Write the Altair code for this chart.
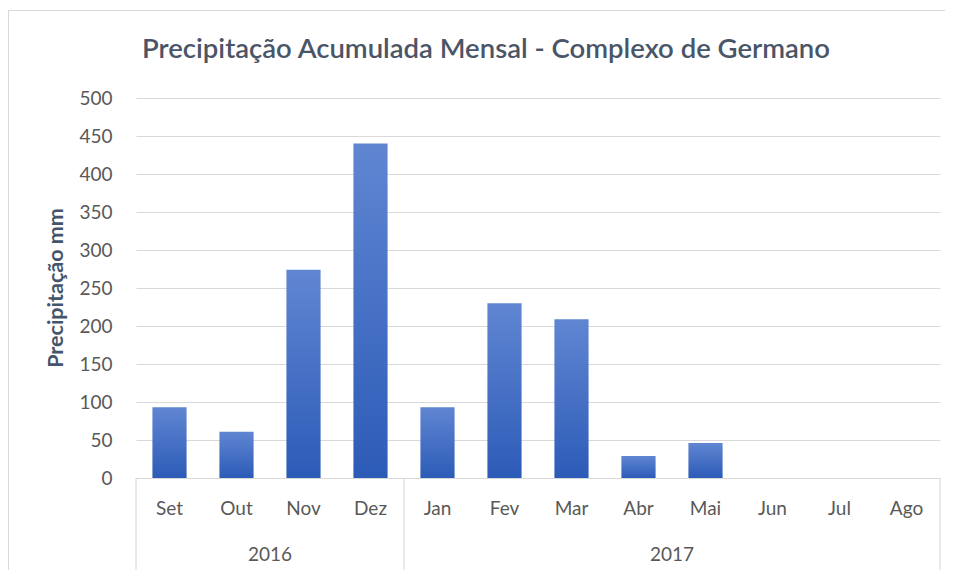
import altair as alt
import pandas as pd

# ---- data ----
months = ["Set", "Out", "Nov", "Dez", "Jan", "Fev", "Mar", "Abr", "Mai", "Jun", "Jul", "Ago"]
values = [93, 61, 274, 440, 93, 230, 209, 29, 46, 0, 0, 0]
years = ["2016", "2017"]
year_mid_month = ["Nov", "Mai"]      # label sits on the left edge of this month's slot
group_start = ["Set", "Jan"]          # separators at left edge of these slots
group_end = ["Ago"]                   # separator at right edge of this slot
y_ticks = list(range(0, 501, 50))
title_text = ["Precipitação Acumulada Mensal - Complexo de Germano"]
ytitle_text = ["Precipitação mm"]

W, H = 804, 380
STEP = W / len(months)
FONT = "Lato"
LABEL_COLOR = "#595959"
TITLE_COLOR = "#4a5567"
GRID = "#d9d9d9"

df = pd.DataFrame({"Mes": months, "Precip": values})

xscale = alt.Scale(domain=months, paddingInner=0.49, paddingOuter=0.245)
xenc = alt.X(
    "Mes:N", sort=months, scale=xscale,
    axis=alt.Axis(title=None, labelAngle=0, ticks=False, labelPadding=21,
                  domainColor=GRID, labelFont=FONT, labelFontSize=19,
                  labelColor=LABEL_COLOR, grid=False),
)

gradient = alt.LinearGradient(
    gradient="linear", x1=0, x2=0, y1=0, y2=1,
    stops=[alt.GradientStop(offset=0, color="#6086d2"),
           alt.GradientStop(offset=1, color="#2c5bb7")],
)

bars = alt.Chart(df).mark_bar(color=gradient).encode(
    x=xenc,
    y=alt.Y("Precip:Q", scale=alt.Scale(domain=[0, 500], nice=False),
            axis=alt.Axis(values=y_ticks, title=None, ticks=False, domain=False,
                          labelPadding=24, gridColor=GRID, labelFont=FONT,
                          labelFontSize=19, labelColor=LABEL_COLOR)),
)

year_df = pd.DataFrame({"Mes": year_mid_month, "Ano": years})
year_text = alt.Chart(year_df).mark_text(
    dx=-STEP / 2, baseline="alphabetic", font=FONT, fontSize=19, color=LABEL_COLOR
).encode(x=alt.X("Mes:N", sort=months, scale=xscale), y=alt.value(H + 83), text="Ano:N")

sep_left = alt.Chart(pd.DataFrame({"Mes": group_start})).mark_rule(
    xOffset=-STEP / 2, color="#d0d5dc", strokeWidth=1
).encode(x=alt.X("Mes:N", sort=months, scale=xscale), y=alt.value(H), y2=alt.value(H + 92))

sep_right = alt.Chart(pd.DataFrame({"Mes": group_end})).mark_rule(
    xOffset=STEP / 2, color="#d0d5dc", strokeWidth=1
).encode(x=alt.X("Mes:N", sort=months, scale=xscale), y=alt.value(H), y2=alt.value(H + 92))

title = alt.Chart(pd.DataFrame({"t": title_text})).mark_text(
    font=FONT, fontSize=27.5, fontWeight=600, color=TITLE_COLOR,
    align="center", baseline="alphabetic"
).encode(text="t:N", x=alt.value(350), y=alt.value(-40))

ytitle = alt.Chart(pd.DataFrame({"t": ytitle_text})).mark_text(
    font=FONT, fontSize=21.5, fontWeight="bold", color="#44546a",
    align="center", baseline="middle", angle=270
).encode(text="t:N", x=alt.value(-79), y=alt.value(190))

frame_top = alt.Chart(pd.DataFrame({"t": [0]})).mark_rule(color=GRID).encode(
    x=alt.value(-128), x2=alt.value(W + 5), y=alt.value(-87.5))
frame_left = alt.Chart(pd.DataFrame({"t": [0]})).mark_rule(color=GRID).encode(
    x=alt.value(-127.5), y=alt.value(-88), y2=alt.value(H + 92))

chart = alt.layer(
    frame_top, frame_left, bars, sep_left, sep_right, year_text, title, ytitle
).properties(
    width=W, height=H,
    padding={"left": 128, "top": 90, "right": 5, "bottom": 92},
    autosize=alt.AutoSizeParams(type="none"),
).configure_view(stroke=None)

chart.save("out.html", embed_options={"renderer": "svg", "actions": False})
